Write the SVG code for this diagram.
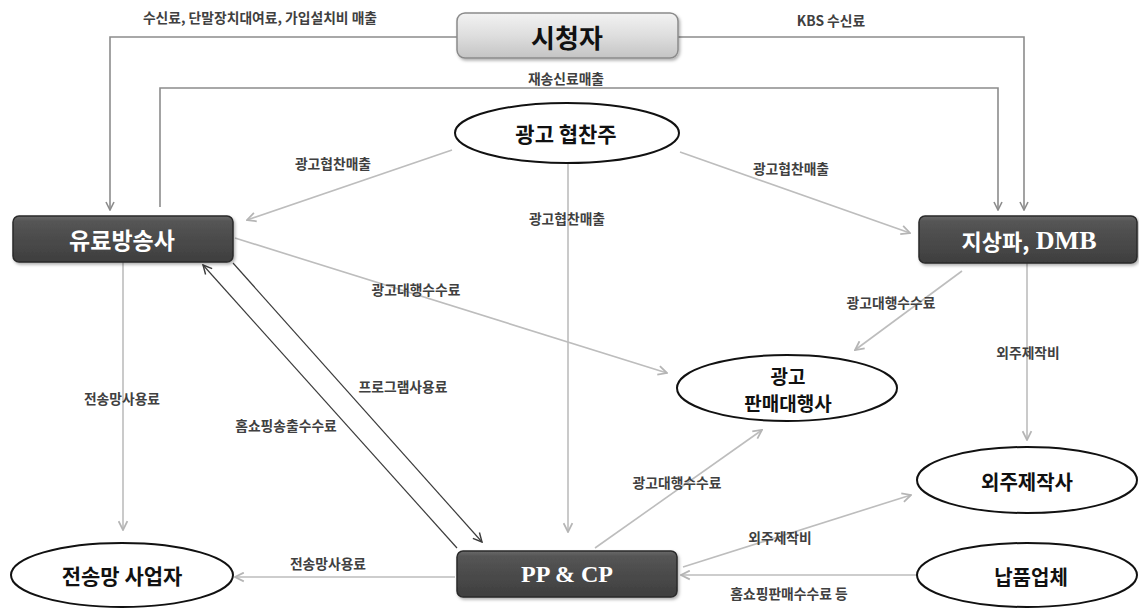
<svg xmlns="http://www.w3.org/2000/svg" width="1139" height="608" viewBox="0 0 1139 608">
  <style>
    .lbl { font-family: "Noto Sans CJK KR", "Noto Sans", sans-serif; font-size: 13.8px; font-weight: bold; fill: #404040; text-anchor: middle; dominant-baseline: central; }
    .ell { fill: #ffffff; stroke: #111111; stroke-width: 2; }
    .ntext { font-family: "Noto Sans CJK KR", "Noto Sans", sans-serif; font-weight: bold; fill: #111111; text-anchor: middle; dominant-baseline: central; }
    .dbox { fill: url(#darkGrad); stroke: #2a2a2a; stroke-width: 1.5; filter: url(#shadow); }
    .dtext { font-family: "Liberation Serif", "Noto Sans CJK KR", serif; font-weight: bold; fill: #ffffff; text-anchor: middle; dominant-baseline: central; }
    .wtext { font-family: "Noto Sans CJK KR", "Noto Sans", sans-serif; font-weight: bold; fill: #ffffff; text-anchor: middle; dominant-baseline: central; }
    .mid { fill: none; stroke: #8c8c8c; stroke-width: 1.6; marker-end: url(#arrMid); }
    .light { fill: none; stroke: #bdbdbd; stroke-width: 1.6; marker-end: url(#arrLight); }
    .dark { fill: none; stroke: #3c3c3c; stroke-width: 1.2; marker-end: url(#arrDark); }
  </style>
  <defs>
    <linearGradient id="darkGrad" x1="0" y1="0" x2="0" y2="1">
      <stop offset="0" stop-color="#6a6a6a"/>
      <stop offset="0.12" stop-color="#555555"/>
      <stop offset="1" stop-color="#3e3e3e"/>
    </linearGradient>
    <linearGradient id="lightGrad" x1="0" y1="0" x2="0" y2="1">
      <stop offset="0" stop-color="#f2f2f2"/>
      <stop offset="0.5" stop-color="#dedede"/>
      <stop offset="1" stop-color="#c4c4c4"/>
    </linearGradient>
    <filter id="shadow" x="-10%" y="-20%" width="120%" height="150%">
      <feDropShadow dx="1.5" dy="2" stdDeviation="1.5" flood-color="#000000" flood-opacity="0.3"/>
    </filter>
    <marker id="arrMid" viewBox="0 0 10 10" refX="9" refY="5" markerWidth="10" markerHeight="10" markerUnits="userSpaceOnUse" orient="auto">
      <path d="M1,1 L9,5 L1,9" fill="none" stroke="#8c8c8c" stroke-width="1.6"/>
    </marker>
    <marker id="arrLight" viewBox="0 0 10 10" refX="9" refY="5" markerWidth="11" markerHeight="11" markerUnits="userSpaceOnUse" orient="auto">
      <path d="M1,1 L9,5 L1,9" fill="none" stroke="#b5b5b5" stroke-width="1.6"/>
    </marker>
    <marker id="arrDark" viewBox="0 0 10 10" refX="9" refY="5" markerWidth="11" markerHeight="11" markerUnits="userSpaceOnUse" orient="auto">
      <path d="M1,1 L9,5 L1,9" fill="none" stroke="#3c3c3c" stroke-width="1.3"/>
    </marker>
  </defs>

  <rect width="1139" height="608" fill="#ffffff"/>

  <!-- connectors -->
  <g id="connectors">
    <path class="mid" d="M457,37 H110 V210"/>
    <path class="mid" d="M678,37 H1024 V210"/>
    <path class="mid" d="M160,207 V88 H998 V210"/>
    <path class="light" d="M452,150 L247,220"/>
    <path class="light" d="M680,152 L910,233"/>
    <path class="light" d="M568,163 V532"/>
    <path class="light" d="M235,238 L667,373"/>
    <path class="light" d="M962,271 L855,350"/>
    <path class="light" d="M1027,263 V440"/>
    <path class="light" d="M123,262 V530"/>
    <path class="dark" d="M457,548 L203,265"/>
    <path class="dark" d="M233,263 L482,542"/>
    <path class="light" d="M455,577 H235"/>
    <path class="light" d="M595,548 L762,430"/>
    <path class="light" d="M683,567 L911,495"/>
    <path class="light" d="M917,575 H681"/>
  </g>

  <!-- connector labels -->
  <g id="labels">
    <text class="lbl" x="260" y="17">수신료, 단말장치대여료, 가입설치비 매출</text>
    <text class="lbl" x="831" y="20">KBS 수신료</text>
    <text class="lbl" x="566" y="78">재송신료매출</text>
    <text class="lbl" x="333" y="163">광고협찬매출</text>
    <text class="lbl" x="791" y="168">광고협찬매출</text>
    <text class="lbl" x="567" y="218">광고협찬매출</text>
    <text class="lbl" x="416" y="289">광고대행수수료</text>
    <text class="lbl" x="891" y="302">광고대행수수료</text>
    <text class="lbl" x="1028" y="352">외주제작비</text>
    <text class="lbl" x="403" y="386">프로그램사용료</text>
    <text class="lbl" x="122" y="398">전송망사용료</text>
    <text class="lbl" x="286" y="425">홈쇼핑송출수수료</text>
    <text class="lbl" x="677" y="482">광고대행수수료</text>
    <text class="lbl" x="780" y="537">외주제작비</text>
    <text class="lbl" x="328" y="563">전송망사용료</text>
    <text class="lbl" x="789" y="593">홈쇼핑판매수수료 등</text>
  </g>

  <!-- nodes -->
  <g id="viewer">
    <rect x="457" y="13" width="221" height="45" rx="8" fill="url(#lightGrad)" stroke="#8a8a8a" stroke-width="1.5" filter="url(#shadow)"/>
    <text class="ntext" x="567" y="36" font-size="26">시청자</text>
  </g>

  <g id="sponsor">
    <ellipse class="ell" cx="567" cy="133" rx="112" ry="30"/>
    <text class="ntext" x="566" y="133" font-size="21">광고 협찬주</text>
  </g>

  <g id="paytv">
    <rect class="dbox" x="13" y="216" width="220" height="46" rx="6"/>
    <text class="wtext" x="122" y="239" font-size="23">유료방송사</text>
  </g>

  <g id="terrestrial">
    <rect class="dbox" x="919" y="216" width="218" height="47" rx="6"/>
    <text class="dtext" x="1029" y="240" font-size="26"><tspan font-family="Noto Sans CJK KR, sans-serif" font-size="22">지상파,</tspan> DMB</text>
  </g>

  <g id="adagency">
    <ellipse class="ell" cx="787" cy="388" rx="110" ry="33"/>
    <text class="ntext" x="788" y="375" font-size="19">광고</text>
    <text class="ntext" x="788" y="402" font-size="19">판매대행사</text>
  </g>

  <g id="outsource">
    <ellipse class="ell" cx="1027" cy="480" rx="110" ry="33"/>
    <text class="ntext" x="1027" y="481" font-size="20">외주제작사</text>
  </g>

  <g id="supplier">
    <ellipse class="ell" cx="1027" cy="575" rx="110" ry="32"/>
    <text class="ntext" x="1031" y="576" font-size="20">납품업체</text>
  </g>

  <g id="network">
    <ellipse class="ell" cx="122" cy="575" rx="111" ry="32"/>
    <text class="ntext" x="122" y="575" font-size="21">전송망 사업자</text>
  </g>

  <g id="ppcp">
    <rect class="dbox" x="457" y="551" width="220" height="46" rx="6"/>
    <text class="dtext" x="567" y="574" font-size="24">PP &amp; CP</text>
  </g>
</svg>
